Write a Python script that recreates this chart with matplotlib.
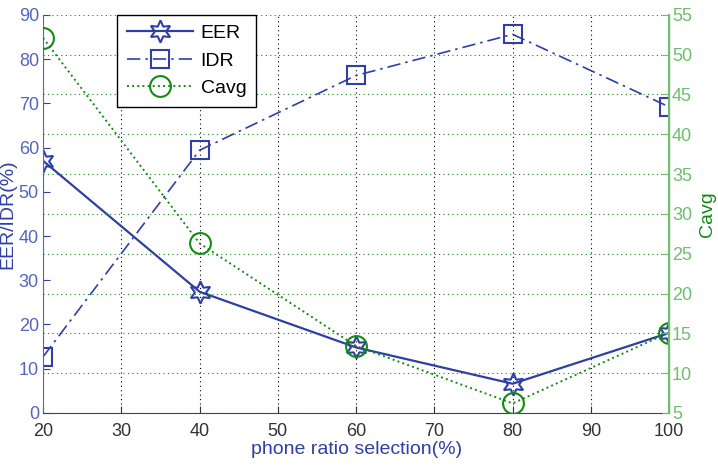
import matplotlib
matplotlib.use("Agg")
import matplotlib.pyplot as plt

x_vals = [20, 40, 60, 80, 100]
eer = [57.0, 27.4, 14.8, 6.6, 18.1]
idr = [12.7, 59.4, 76.3, 85.6, 69.2]
cavg = [52.1, 26.3, 13.4, 6.2, 15.1]
x_ticks = [20, 30, 40, 50, 60, 70, 80, 90, 100]
left_ticks = [0, 10, 20, 30, 40, 50, 60, 70, 80, 90]
right_ticks = [5, 10, 15, 20, 25, 30, 35, 40, 45, 50, 55]

blue = "#2f3fa3"
tick_blue = "#5566bb"
green = "#138a13"
light_green = "#6cbf6c"

plt.rcParams['font.family'] = ['Liberation Sans', 'DejaVu Sans']

fig = plt.figure(figsize=(7.18, 4.65), dpi=100)
ax = fig.add_axes([0.060, 0.112, 0.872, 0.856])
ax2 = ax.twinx()

hexagram = (6, 1, 0)
l1, = ax.plot(x_vals, eer, '-', color=blue, lw=1.6, marker=hexagram, ms=16,
              mfc='none', mec=blue, mew=1.5, label='EER')
l2, = ax.plot(x_vals, idr, linestyle=(0, (8, 3, 1.5, 3)), color=blue, lw=1.2, marker='s', ms=13,
              mfc='none', mec=blue, mew=1.5, label='IDR')
l3, = ax2.plot(x_vals, cavg, ':', color=green, lw=1.4, marker='o', ms=15,
               mfc='none', mec=green, mew=1.5, label='Cavg')

ax.set_xlim(20, 100)
ax.set_ylim(0, 90)
ax2.set_ylim(5, 55)
ax.set_xticks(x_ticks)
ax.set_yticks(left_ticks)
ax2.set_yticks(right_ticks)

ax.xaxis.grid(True, linestyle=(0, (1, 3)), color='black', lw=0.8)
ax2.yaxis.grid(True, linestyle=(0, (1, 3)), color=green, lw=0.8)
ax.yaxis.grid(False)

ax.tick_params(axis='x', direction='in', colors='#333333', labelsize=13, length=5, top=False, pad=7)
ax.tick_params(axis='y', direction='in', colors=blue, labelcolor=tick_blue, labelsize=13, length=5, pad=3)
ax2.tick_params(axis='y', direction='in', colors=light_green, labelcolor=light_green, labelsize=13, length=5, pad=2)

ax.spines['top'].set_visible(False)
ax2.spines['top'].set_visible(False)
ax.spines['left'].set_color(tick_blue)
ax.spines['bottom'].set_color('#444444')
ax2.spines['right'].set_color(light_green)
ax2.spines['right'].set_linewidth(1.5)
ax2.spines['left'].set_visible(False)
ax2.spines['bottom'].set_visible(False)

ax.set_xlabel('phone ratio selection(%)', color=blue, fontsize=14, labelpad=1)
ax.set_ylabel('EER/IDR(%)', color=blue, fontsize=14)
ax.yaxis.set_label_coords(-0.043, 0.5)
ax2.set_ylabel('Cavg', color=green, fontsize=14, rotation=90)
ax2.yaxis.set_label_coords(1.047, 0.5)

ax2.set_zorder(ax.get_zorder() + 1)
ax2.patch.set_visible(False)
leg = ax2.legend(handles=[l1, l2, l3], loc='upper left', bbox_to_anchor=(0.118, 1.0),
                 borderaxespad=0, fancybox=False, edgecolor='black', framealpha=1,
                 handlelength=3.4, borderpad=0.5, labelspacing=0.5, handletextpad=0.4,
                 prop={'family': 'Liberation Sans', 'size': 14})
leg.get_frame().set_linewidth(1.0)

fig.savefig('out.png', dpi=100)
